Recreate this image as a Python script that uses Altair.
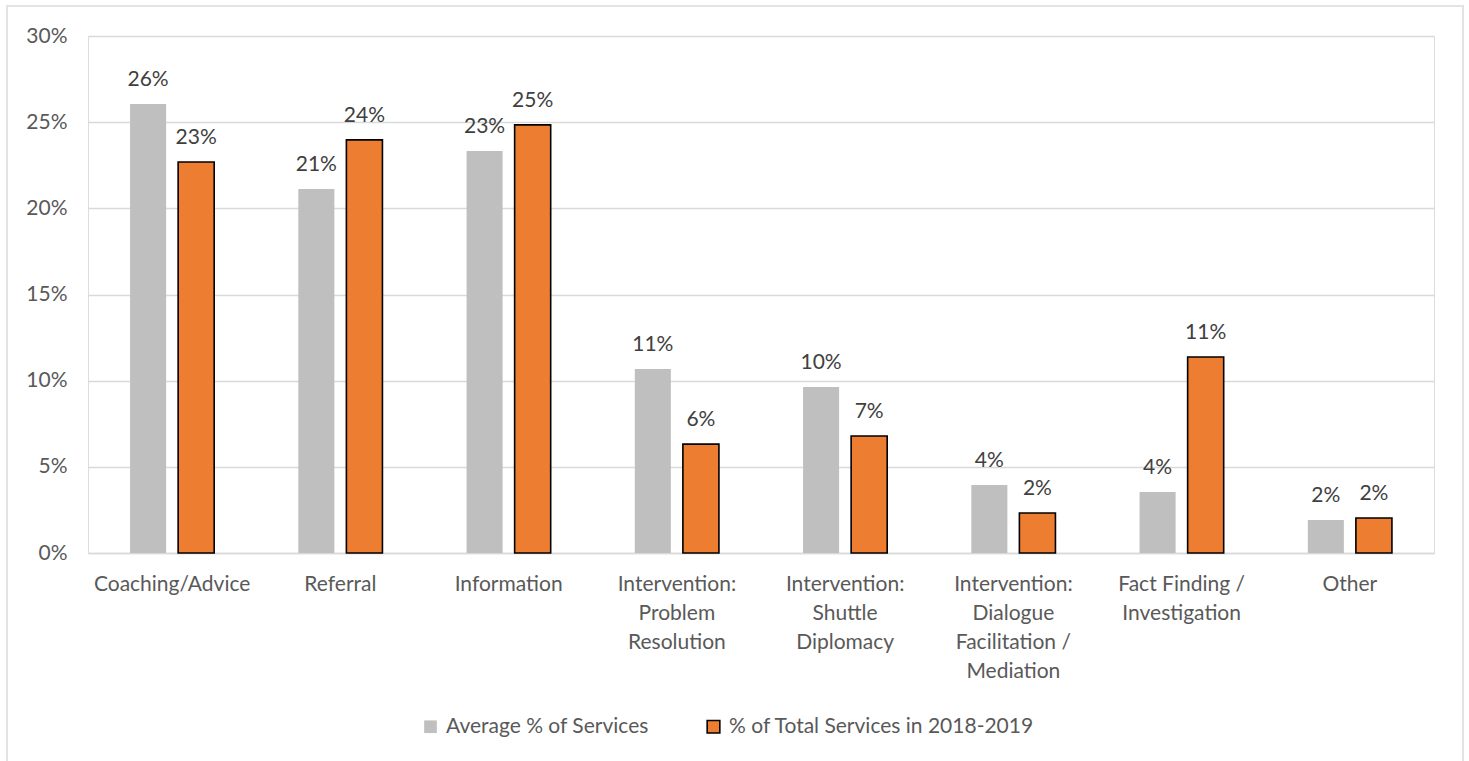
import altair as alt
import pandas as pd

categories = [
    "Coaching/Advice",
    "Referral",
    "Information",
    "Intervention:|Problem|Resolution",
    "Intervention:|Shuttle|Diplomacy",
    "Intervention:|Dialogue|Facilitation /|Mediation",
    "Fact Finding /|Investigation",
    "Other",
]
series_names = ["Average % of Services", "% of Total Services in 2018-2019"]
average_pct = [0.2605, 0.2112, 0.2333, 0.1068, 0.0963, 0.0395, 0.0354, 0.0191]
total_2018_2019 = [0.2269, 0.2397, 0.2484, 0.0632, 0.0679, 0.0232, 0.1137, 0.0203]

rows = []
for c, a, t in zip(categories, average_pct, total_2018_2019):
    rows.append({"category": c, "series": series_names[0], "value": a})
    rows.append({"category": c, "series": series_names[1], "value": t})
df = pd.DataFrame(rows)

FONT = "Lato"
FS = 21
W, H = 1346, 517

x_enc = alt.X(
    "category:N",
    sort=categories,
    title=None,
    scale=alt.Scale(paddingInner=0.5, paddingOuter=0.25),
    axis=alt.Axis(
        labelExpr="split(datum.label, '|')",
        labelAngle=0,
        labelFont=FONT,
        labelFontSize=FS,
        labelColor="#595959",
        labelLineHeight=29,
        labelPadding=20,
        labelLimit=0,
        ticks=False,
        domainColor="#d9d9d9",
        domainWidth=1.5,
        grid=False,
    ),
)
xoff = alt.XOffset("series:N", sort=series_names, scale=alt.Scale(paddingInner=0.25))
y_enc = alt.Y(
    "value:Q",
    title=None,
    scale=alt.Scale(domain=[0, 0.30]),
    axis=alt.Axis(
        format=".0%",
        values=[0, 0.05, 0.10, 0.15, 0.20, 0.25, 0.30],
        labelFont=FONT,
        labelFontSize=FS,
        labelColor="#595959",
        labelPadding=21,
        ticks=False,
        domain=False,
        gridColor="#d9d9d9",
        gridWidth=1.5,
    ),
)

legend_kw = dict(
    title=None,
    orient="none",
    legendX=332,
    legendY=680,
    direction="horizontal",
    symbolType="square",
    symbolSize=160,
    symbolStrokeWidth=1.6,
    labelFont=FONT,
    labelFontSize=FS,
    labelColor="#595959",
    labelLimit=0,
    columnPadding=54,
    labelOffset=5,
)

bars = alt.Chart(df).mark_bar(strokeWidth=1.6).encode(
    x=x_enc,
    xOffset=xoff,
    y=y_enc,
    color=alt.Color(
        "series:N",
        sort=series_names,
        scale=alt.Scale(domain=series_names, range=["#bfbfbf", "#ed7d31"]),
        legend=alt.Legend(**legend_kw),
    ),
    stroke=alt.Stroke(
        "series:N",
        sort=series_names,
        scale=alt.Scale(domain=series_names, range=["transparent", "#000000"]),
        legend=alt.Legend(**legend_kw),
    ),
)

labels = alt.Chart(df).mark_text(
    baseline="alphabetic", dy=-18, font=FONT, fontSize=FS, color="#404040"
).encode(
    x=alt.X("category:N", sort=categories),
    xOffset=alt.XOffset("series:N", sort=series_names),
    y="value:Q",
    text=alt.Text("value:Q", format=".0%"),
)

frame = alt.Chart(pd.DataFrame({"a": [0]})).mark_rect(
    fill="transparent", stroke="#e3e3e3", strokeWidth=2
).encode(
    x=alt.value(-81), x2=alt.value(1375), y=alt.value(-30), y2=alt.value(740)
)

chart = (
    alt.layer(frame, bars, labels)
    .properties(
        width=W,
        height=H,
        padding={"left": 88, "top": 36, "right": 35, "bottom": 208},
        autosize=alt.AutoSizeParams(type="none"),
    )
    .configure_view(stroke=None)
    .configure(background="white")
)

chart.save("out.html", embed_options={"renderer": "svg", "actions": False})
